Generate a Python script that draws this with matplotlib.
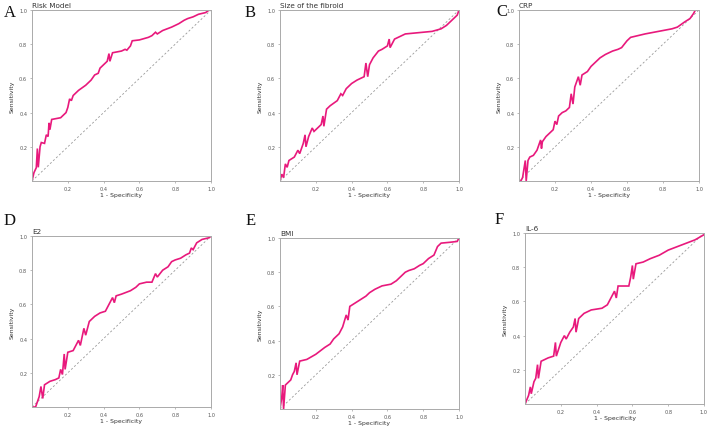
import matplotlib
matplotlib.use("Agg")
import matplotlib.pyplot as plt

# ---- data ----
titles = ["Risk Model", "Size of the fibroid", "CRP", "E2", "BMI", "IL-6"]
letters = ["A", "B", "C", "D", "E", "F"]

a_fpr = [0, 0.011, 0.024, 0.03, 0.035, 0.045, 0.052, 0.07, 0.08, 0.09, 0.095, 0.1, 0.11, 0.16, 0.19, 0.2, 0.21, 0.22, 0.23, 0.26, 0.3, 0.33, 0.35, 0.37, 0.38, 0.41, 0.42, 0.43, 0.435, 0.45, 0.5, 0.52, 0.53, 0.55, 0.56, 0.6, 0.65, 0.67, 0.69, 0.7, 0.73, 0.78, 0.82, 0.85, 0.87, 0.9, 0.93, 0.97, 0.99, 1.0]
a_tpr = [0, 0.049, 0.078, 0.19, 0.08, 0.2, 0.225, 0.22, 0.27, 0.26, 0.34, 0.3, 0.36, 0.37, 0.4, 0.43, 0.48, 0.47, 0.5, 0.53, 0.56, 0.59, 0.62, 0.63, 0.66, 0.69, 0.7, 0.745, 0.7, 0.75, 0.76, 0.77, 0.765, 0.79, 0.82, 0.825, 0.84, 0.85, 0.87, 0.86, 0.88, 0.9, 0.92, 0.94, 0.95, 0.96, 0.975, 0.985, 1.0, 1.0]

b_fpr = [0, 0.01, 0.02, 0.03, 0.04, 0.05, 0.08, 0.1, 0.11, 0.13, 0.14, 0.145, 0.16, 0.18, 0.19, 0.21, 0.23, 0.24, 0.245, 0.26, 0.28, 0.32, 0.34, 0.35, 0.37, 0.4, 0.43, 0.47, 0.48, 0.49, 0.5, 0.52, 0.55, 0.57, 0.6, 0.61, 0.615, 0.64, 0.68, 0.7, 0.75, 0.8, 0.85, 0.9, 0.93, 0.96, 0.98, 0.99, 1.0]
b_tpr = [0, 0.04, 0.02, 0.1, 0.08, 0.12, 0.14, 0.18, 0.16, 0.22, 0.27, 0.2, 0.26, 0.31, 0.29, 0.31, 0.33, 0.38, 0.32, 0.42, 0.44, 0.47, 0.51, 0.5, 0.54, 0.57, 0.59, 0.61, 0.69, 0.61, 0.68, 0.72, 0.76, 0.77, 0.79, 0.83, 0.78, 0.83, 0.85, 0.86, 0.865, 0.87, 0.875, 0.89, 0.91, 0.94, 0.96, 0.97, 1.0]

c_fpr = [0, 0.01, 0.02, 0.035, 0.04, 0.05, 0.06, 0.08, 0.1, 0.11, 0.12, 0.125, 0.13, 0.15, 0.17, 0.19, 0.2, 0.21, 0.22, 0.24, 0.26, 0.28, 0.29, 0.3, 0.31, 0.33, 0.34, 0.35, 0.38, 0.4, 0.43, 0.45, 0.48, 0.52, 0.55, 0.57, 0.6, 0.62, 0.66, 0.7, 0.75, 0.8, 0.85, 0.88, 0.92, 0.95, 0.97, 0.98, 1.0]
c_tpr = [0, 0.0, 0.02, 0.12, 0.0, 0.12, 0.14, 0.15, 0.18, 0.21, 0.24, 0.19, 0.23, 0.26, 0.28, 0.3, 0.35, 0.33, 0.38, 0.4, 0.41, 0.43, 0.51, 0.45, 0.55, 0.61, 0.56, 0.62, 0.64, 0.67, 0.7, 0.72, 0.74, 0.76, 0.77, 0.78, 0.82, 0.84, 0.85, 0.86, 0.87, 0.88, 0.89, 0.9, 0.93, 0.95, 0.98, 1.0, 1.0]

d_fpr = [0, 0.02, 0.03, 0.04, 0.05, 0.06, 0.07, 0.1, 0.13, 0.15, 0.16, 0.17, 0.18, 0.185, 0.2, 0.23, 0.26, 0.27, 0.29, 0.3, 0.32, 0.35, 0.38, 0.41, 0.43, 0.45, 0.46, 0.47, 0.5, 0.55, 0.58, 0.6, 0.64, 0.67, 0.69, 0.7, 0.73, 0.76, 0.78, 0.8, 0.83, 0.86, 0.88, 0.89, 0.9, 0.92, 0.95, 0.99, 1.0]
d_tpr = [0, 0.0, 0.03, 0.06, 0.12, 0.05, 0.13, 0.15, 0.16, 0.17, 0.22, 0.19, 0.31, 0.22, 0.32, 0.33, 0.39, 0.36, 0.46, 0.42, 0.5, 0.53, 0.55, 0.56, 0.6, 0.64, 0.61, 0.65, 0.66, 0.68, 0.7, 0.72, 0.73, 0.73, 0.78, 0.76, 0.8, 0.82, 0.85, 0.86, 0.87, 0.89, 0.9, 0.93, 0.92, 0.96, 0.98, 0.99, 1.0]

e_fpr = [0, 0.01, 0.015, 0.02, 0.03, 0.04, 0.06, 0.07, 0.08, 0.09, 0.095, 0.11, 0.15, 0.2, 0.25, 0.28, 0.3, 0.33, 0.35, 0.37, 0.38, 0.39, 0.42, 0.45, 0.48, 0.5, 0.53, 0.57, 0.62, 0.65, 0.68, 0.7, 0.72, 0.75, 0.78, 0.8, 0.83, 0.86, 0.88, 0.9, 0.95, 0.99, 1.0]
e_tpr = [0, 0.07, 0.14, 0.0, 0.14, 0.15, 0.17, 0.2, 0.22, 0.27, 0.2, 0.28, 0.29, 0.32, 0.36, 0.38, 0.41, 0.44, 0.48, 0.55, 0.52, 0.6, 0.62, 0.64, 0.66, 0.68, 0.7, 0.72, 0.73, 0.75, 0.78, 0.8, 0.81, 0.82, 0.84, 0.85, 0.88, 0.9, 0.95, 0.97, 0.975, 0.98, 1.0]

f_fpr = [0, 0.02, 0.03, 0.035, 0.05, 0.06, 0.07, 0.075, 0.09, 0.13, 0.16, 0.17, 0.175, 0.2, 0.22, 0.23, 0.25, 0.27, 0.28, 0.285, 0.3, 0.33, 0.37, 0.43, 0.46, 0.48, 0.5, 0.51, 0.52, 0.56, 0.58, 0.59, 0.6, 0.605, 0.62, 0.66, 0.7, 0.75, 0.8, 0.85, 0.9, 0.95, 1.0]
f_tpr = [0, 0.05, 0.1, 0.06, 0.13, 0.15, 0.23, 0.15, 0.25, 0.27, 0.28, 0.36, 0.28, 0.36, 0.4, 0.38, 0.42, 0.45, 0.5, 0.42, 0.5, 0.53, 0.55, 0.56, 0.58, 0.62, 0.66, 0.62, 0.69, 0.69, 0.69, 0.74, 0.81, 0.73, 0.82, 0.83, 0.85, 0.87, 0.9, 0.92, 0.94, 0.96, 0.99]

ticks = [0.2, 0.4, 0.6, 0.8, 1.0]
tick_labels = ["0.2", "0.4", "0.6", "0.8", "1.0"]

series = [(a_fpr, a_tpr), (b_fpr, b_tpr), (c_fpr, c_tpr),
          (d_fpr, d_tpr), (e_fpr, e_tpr), (f_fpr, f_tpr)]

# axes boxes in pixels: (left, right, top, bottom)
boxes = [(32, 211, 11, 182), (280, 459, 11, 182), (519, 699, 11, 182),
         (32, 211, 237, 408), (280, 459, 239, 410), (525, 704, 234, 405)]
letter_pos = [(4, 13), (245, 13), (496, 12), (4, 221), (246, 221), (495, 220)]

W, H = 709, 427
fig = plt.figure(figsize=(W / 100, H / 100), dpi=100)
line_color = "#E8197C"

for i, ((fpr, tpr), (l, r, t, b)) in enumerate(zip(series, boxes)):
    ax = fig.add_axes([l / W, 1 - b / H, (r - l) / W, (b - t) / H])
    ax.plot([0, 1], [0, 1], ls=(0, (2.5, 2.5)), color="#999999", lw=0.6)
    ax.plot(fpr, tpr, color=line_color, lw=1.2, solid_joinstyle="miter")
    ax.set_xlim(0, 1)
    ax.set_ylim(0, 1)
    ax.set_xticks(ticks)
    ax.set_xticklabels(tick_labels)
    ax.set_yticks(ticks)
    ax.set_yticklabels(tick_labels)
    ax.tick_params(labelsize=3.6, length=1.5, width=0.4, colors="#888888",
                   labelcolor="#555555", pad=2)
    for s in ax.spines.values():
        s.set_color("#AAAAAA")
        s.set_linewidth(0.7)
    ax.set_xlabel("1 - Specificity", fontsize=4.4, color="#333333", labelpad=1)
    ax.set_ylabel("Sensitivity", fontsize=4.4, color="#333333", labelpad=3)
    ax.set_title(titles[i], fontsize=5.2, loc="left", color="#333333", pad=2.5)
    lx, ly = letter_pos[i]
    fig.text(lx / W, 1 - ly / H, letters[i], fontsize=12, family="Liberation Serif",
             va="center", ha="left", color="#111111")

fig.savefig("out.png", dpi=100)
